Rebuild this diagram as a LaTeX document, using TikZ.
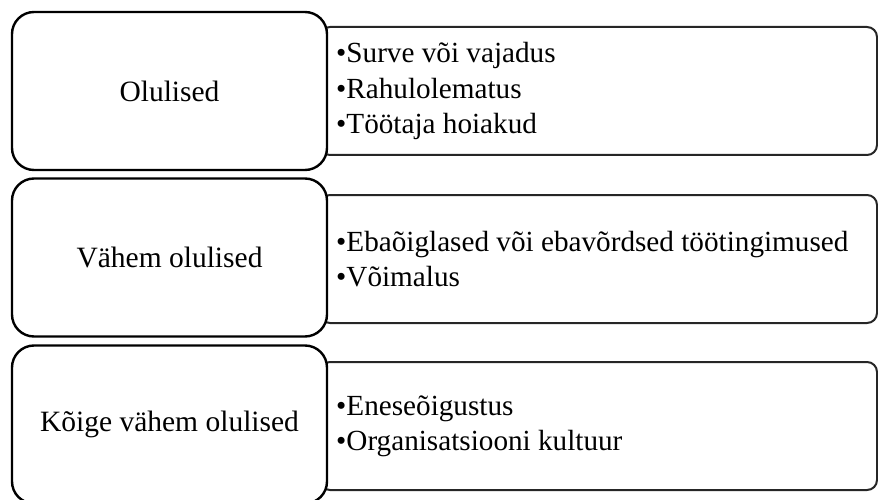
\documentclass[tikz,border=0pt]{standalone}
\usepackage{fontspec}
\setmainfont{Liberation Serif}
\begin{document}
\begin{tikzpicture}[x=1pt,y=-1pt,
  leftbox/.style={draw=black,fill=white,line width=2.4pt,rounded corners=22pt,
    minimum width=315pt,minimum height=158pt,inner sep=0pt,align=center,
    font=\fontsize{29.5}{35.4}\selectfont},
  rightbox/.style={draw=black!85,fill=white,line width=2pt,rounded corners=10pt,
    minimum width=557pt,minimum height=128pt,inner sep=0pt},
  listtext/.style={anchor=west,align=left,inner sep=2pt,
    font=\fontsize{29.2}{35.2}\selectfont}]
\useasboundingbox (0,0) rectangle (878,500);
\clip (0,0) rectangle (878,500);
% right boxes
\node[rightbox] (r1) at (598.5,91) {};
\node[rightbox] (r2) at (598.5,259) {};
\node[rightbox] (r3) at (598.5,426) {};
% left boxes
\node[leftbox] (l1) at (169.5,91) {Olulised};
\node[leftbox] (l2) at (169.5,257.5) {Vähem olulised};
\node[leftbox] (l3) at (169.5,424.5) {Kõige vähem olulised};
% list texts
\node[listtext] (t1) at (334,91) {•Surve või vajadus\\•Rahulolematus\\•Töötaja hoiakud};
\node[listtext] (t2) at (334,259) {•Ebaõiglased või ebavõrdsed töötingimused\\•Võimalus};
\node[listtext] (t3) at (334,426) {•Eneseõigustus\\•Organisatsiooni kultuur};
\end{tikzpicture}
\end{document}
